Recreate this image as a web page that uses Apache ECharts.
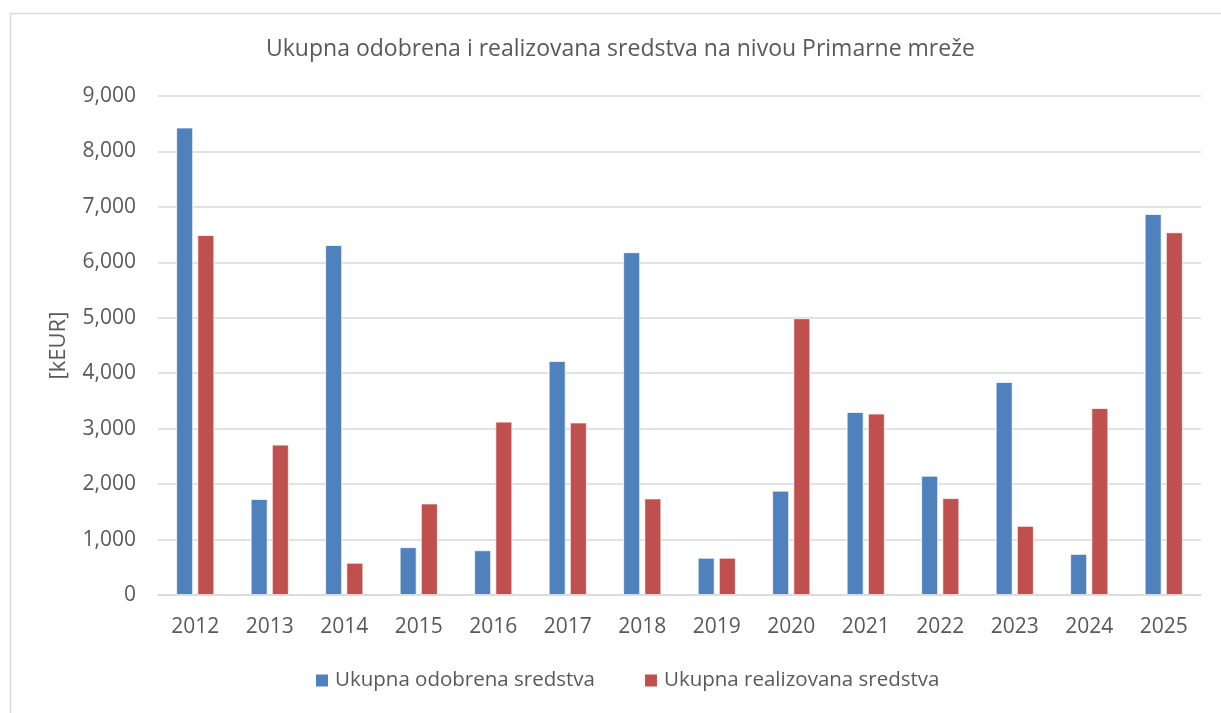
<!DOCTYPE html>
<html>
<head>
<meta charset="utf-8">
<script src="https://cdn.jsdelivr.net/npm/echarts@6/dist/echarts.min.js"></script>
<style>html,body{margin:0;padding:0;background:#fff}#c{width:1221px;height:713px}</style>
</head>
<body>
<div id="c"></div>
<script>
const years = ['2012','2013','2014','2015','2016','2017','2018','2019','2020','2021','2022','2023','2024','2025'];
const odobrena = [8430, 1730, 6310, 860, 805, 4220, 6180, 670, 1880, 3300, 2150, 3840, 740, 6870];
const realizovana = [6490, 2710, 580, 1650, 3125, 3110, 1740, 670, 4990, 3270, 1745, 1245, 3370, 6540];
const seriesNames = ['Ukupna odobrena sredstva', 'Ukupna realizovana sredstva'];
const titleText = 'Ukupna odobrena i realizovana sredstva na nivou Primarne mreže';
const yAxisName = '[kEUR]';

const FONT = 'Open Sans';
const TXT = '#595959';
const chart = echarts.init(document.getElementById('c'), null, {renderer: 'canvas'});
chart.setOption({
  animation: false,
  backgroundColor: '#fff',
  textStyle: {fontFamily: FONT},
  graphic: [{
    type: 'rect', left: 8, top: 11, silent: true,
    shape: {width: 1400, height: 900},
    style: {fill: 'none', stroke: '#D9D9D9', lineWidth: 1.5}
  }],
  title: {
    text: titleText, left: 261, top: 33,
    textStyle: {fontFamily: FONT, fontSize: 23, fontWeight: 'normal', color: TXT}
  },
  legend: {
    bottom: 17, left: 309, itemWidth: 14, itemHeight: 14, itemGap: 48,
    icon: 'rect',
    textStyle: {fontFamily: FONT, fontSize: 20.5, color: TXT, padding: [0, 0, 0, 1]},
    data: seriesNames
  },
  grid: {left: 158, right: 20, top: 96, bottom: 118, containLabel: false},
  xAxis: {
    type: 'category', data: years,
    axisLine: {show: true, lineStyle: {color: '#D9D9D9', width: 1.5}},
    axisTick: {show: false},
    axisLabel: {fontFamily: FONT, fontSize: 21, color: TXT, margin: 22}
  },
  yAxis: {
    type: 'value', min: 0, max: 9000, interval: 1000,
    name: yAxisName, nameLocation: 'middle', nameGap: 88, nameRotate: 90,
    nameMoveOverlap: false,
    nameTextStyle: {fontFamily: FONT, fontSize: 22, color: TXT},
    axisLine: {show: false}, axisTick: {show: false},
    splitLine: {lineStyle: {color: '#D9D9D9', width: 1.5}},
    axisLabel: {fontFamily: FONT, fontSize: 21, color: TXT, margin: 22,
      formatter: v => v.toLocaleString('en-US')}
  },
  series: [
    {name: seriesNames[0], type: 'bar', data: odobrena, barGap: '26%', barCategoryGap: '49%',
      itemStyle: {color: '#4F81BD', borderColor: '#ffffff', borderWidth: 0.75}},
    {name: seriesNames[1], type: 'bar', data: realizovana, barGap: '26%', barCategoryGap: '49%',
      itemStyle: {color: '#C0504D', borderColor: '#ffffff', borderWidth: 0.75}}
  ]
});
</script>
</body>
</html>
